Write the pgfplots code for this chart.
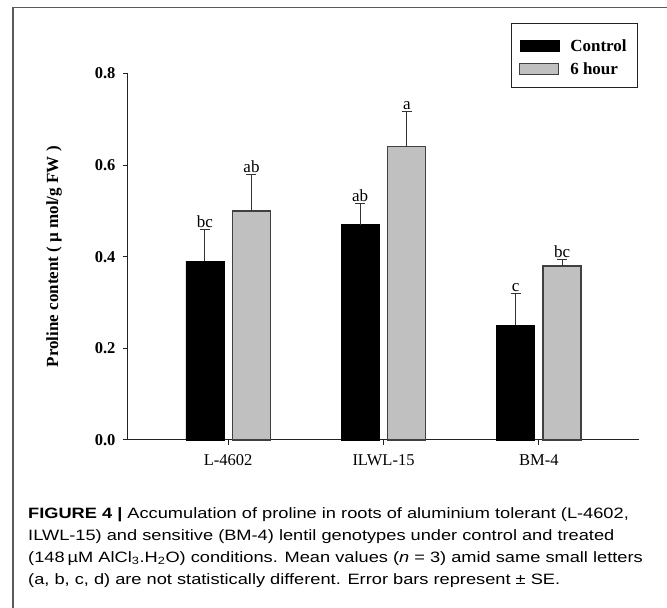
\documentclass[border=0pt]{standalone}
\usepackage{pgfplots}
\pgfplotsset{compat=1.18}
\usepackage{fontspec}
\setmainfont{Liberation Serif}
\newfontfamily\capfont{Liberation Sans}
\definecolor{barg}{HTML}{C0C0C0}
\definecolor{framec}{HTML}{5A5A5A}
\definecolor{axc}{HTML}{222222}
\definecolor{errc}{HTML}{333333}

\begin{document}
\begin{tikzpicture}[x=1pt,y=1pt]
\draw[framec, line width=1.3pt] (13,-40) -- (13,600.5) -- (720,600.5);
\begin{axis}[
  at={(128pt,168pt)}, anchor=south west,
  scale only axis, width=511pt, height=366.5pt,
  xmin=-0.645, xmax=2.645, ymin=0, ymax=0.8,
  ybar=8.5pt, bar width=38pt,
  axis lines=left, axis line style={-, line width=1pt, axc},
  xtick={0,1,2}, xticklabels={L-4602,ILWL-15,BM-4},
  ytick={0,0.2,0.4,0.6,0.8},
  y tick label style={/pgf/number format/fixed, /pgf/number format/fixed zerofill, /pgf/number format/precision=1, /pgf/number format/assume math mode=true, font=\bfseries\fontsize{16.5}{18}\selectfont, xshift=-4pt},
  x tick label style={font=\fontsize{16.5}{18}\selectfont, yshift=-6pt},
  tick align=outside, major tick length=5pt, tick style={line width=1pt, axc},
  ylabel={Proline content ( µ mol/g FW )},
  ylabel shift=26pt,
  ylabel style={font=\bfseries\fontsize{17}{20}\selectfont},
  legend style={at={(0.986,1.105)}, anchor=north east, draw=none, fill=none,
    font=\bfseries\fontsize{17}{20}\selectfont,
    row sep=6pt, /tikz/every odd column/.append style={column sep=9pt}},
  legend cell align=left,
  clip=false,
]
\addplot[fill=black, draw=black,
  legend image code/.code={\draw[fill=black,draw=black] (0pt,-5.5pt) rectangle (39pt,5.5pt);},
  error bars/.cd, y dir=plus, y explicit, error mark=-,
  error bar style={line width=1pt, color=errc},
  error mark options={rotate=90, line width=1pt, mark size=5pt, color=errc}]
  coordinates {(0,0.39) +- (0,0.07) (1,0.47) +- (0,0.047) (2,0.25) +- (0,0.07)};
\addlegendentry{Control}
\addplot[fill=barg, draw=black!75, line width=1.2pt,
  legend image code/.code={\draw[fill=barg,draw=black!75,line width=1pt] (0pt,-5.5pt) rectangle (39pt,5.5pt);},
  error bars/.cd, y dir=plus, y explicit, error mark=-,
  error bar style={line width=1pt, color=errc},
  error mark options={rotate=90, line width=1pt, mark size=5pt, color=errc}]
  coordinates {(0,0.50) +- (0,0.08) (1,0.64) +- (0,0.078) (2,0.38) +- (0,0.015)};
\addlegendentry{6 hour}
\tikzset{lett/.style={anchor=south, inner sep=0pt, yshift=1.5pt, font=\fontsize{17}{18}\selectfont}}
\node[lett] at (axis cs:-0.15,0.46) {bc};
\node[lett] at (axis cs:0.15,0.58) {ab};
\node[lett] at (axis cs:0.85,0.517) {ab};
\node[lett] at (axis cs:1.15,0.718) {a};
\node[lett] at (axis cs:1.85,0.32) {c};
\node[lett] at (axis cs:2.15,0.395) {bc};
\end{axis}
\draw[axc, line width=1pt] (511,520) rectangle (637,584);
\begin{scope}[every node/.style={anchor=base west, inner sep=0pt, font=\capfont\fontsize{15}{21.7}\selectfont}]
\node at (28,89) {\scalebox{1.215}[1]{\textbf{FIGURE 4 |} Accumulation of proline in roots of aluminium tolerant (L-4602,}};
\node at (28,67.3) {\scalebox{1.215}[1]{ILWL-15) and sensitive (BM-4) lentil genotypes under control and treated}};
\node at (28,45.6) {\scalebox{1.215}[1]{(148\,µM AlCl\textsubscript{3}.H\textsubscript{2}O) conditions. Mean values (\textit{n} = 3) amid same small letters}};
\node at (28,23.9) {\scalebox{1.215}[1]{(a, b, c, d) are not statistically different. Error bars represent ± SE.}};
\end{scope}
\pgfresetboundingbox
\path[use as bounding box] (0,0) rectangle (667,608);
\end{tikzpicture}
\end{document}
